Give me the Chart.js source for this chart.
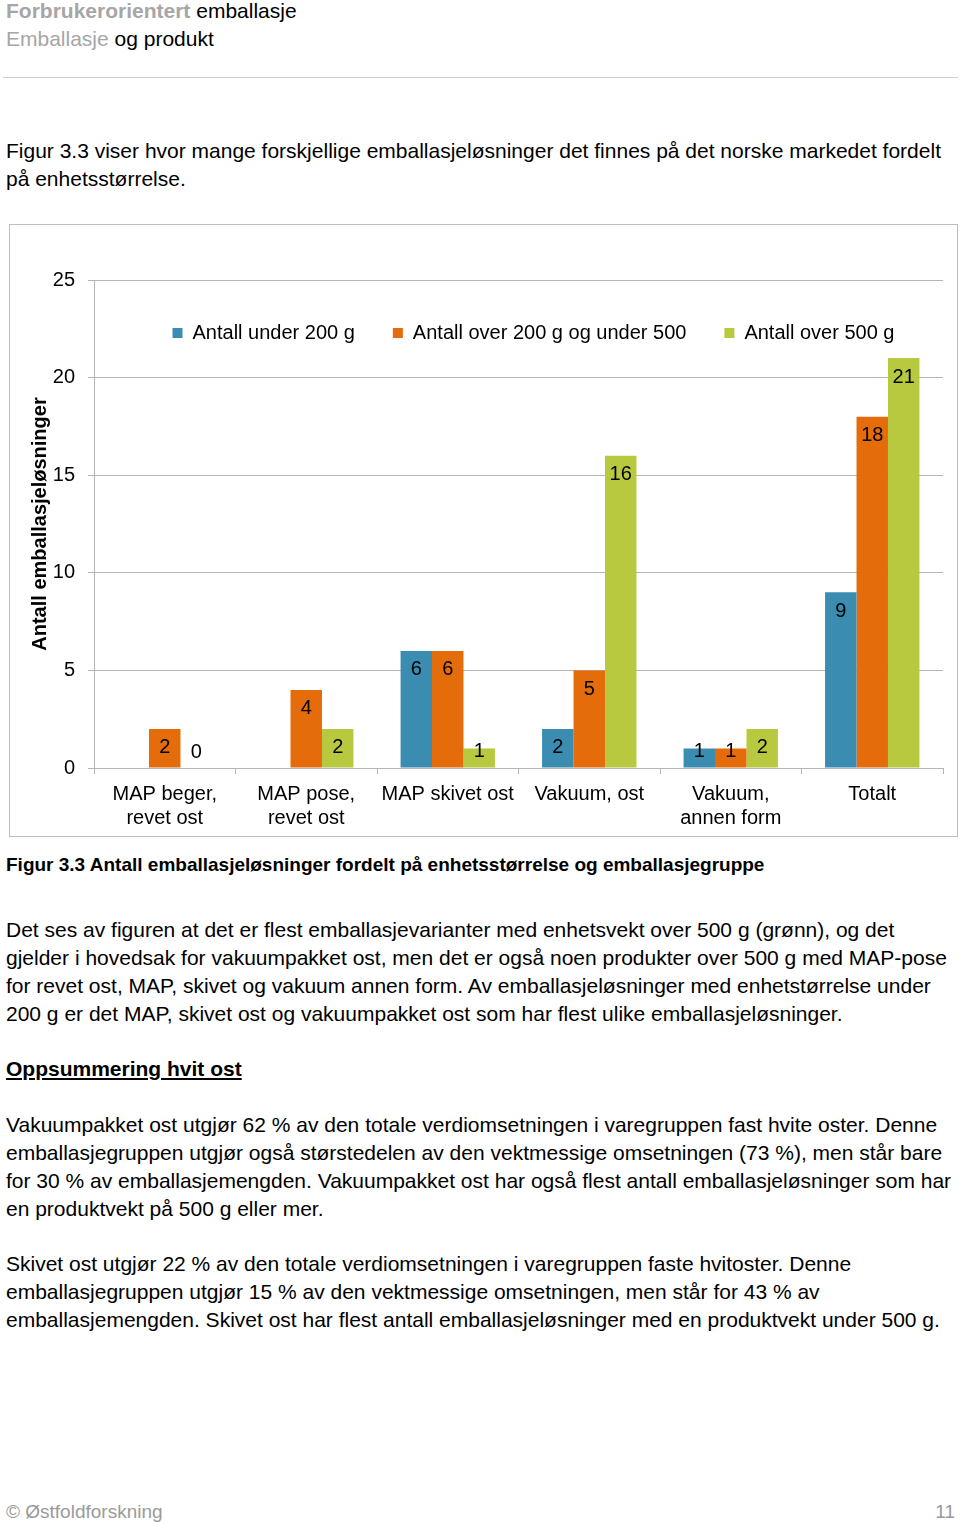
<!DOCTYPE html>
<html>
<head>
<meta charset="utf-8">
<script src="https://cdn.jsdelivr.net/npm/chart.js@4/dist/chart.umd.min.js"></script>
<style>
html,body{margin:0;padding:0;background:#fff;}
body{width:960px;height:1523px;position:relative;overflow:hidden;font-family:"Liberation Sans",Arial,sans-serif;color:#000;}
.t{position:absolute;left:6px;font-size:21px;line-height:28px;white-space:nowrap;}
.g{color:#a6a6a6;}
.b{font-weight:bold;}
#hr{position:absolute;left:3px;top:77px;width:955px;height:1px;background:#d0d0d0;}
#frame{position:absolute;left:9px;top:224px;width:949px;height:613px;box-sizing:border-box;border:1px solid #bdbdbd;}
#frame canvas{display:block;}
</style>
</head>
<body>
<div class="t" style="top:-3px;"><span class="g b">Forbrukerorientert</span> emballasje<br><span class="g">Emballasje</span> og produkt</div>
<div id="hr"></div>
<div class="t" style="top:137px;">Figur 3.3 viser hvor mange forskjellige emballasjeløsninger det finnes på det norske markedet fordelt<br>på enhetsstørrelse.</div>
<div id="frame"><canvas id="c" width="947" height="611" style="width:947px;height:611px;"></canvas></div>
<div class="t b" style="top:851px;font-size:19px;">Figur 3.3 Antall emballasjeløsninger fordelt på enhetsstørrelse og emballasjegruppe</div>
<div class="t" style="top:916px;">Det ses av figuren at det er flest emballasjevarianter med enhetsvekt over 500 g (grønn), og det<br>gjelder i hovedsak for vakuumpakket ost, men det er også noen produkter over 500 g med MAP-pose<br>for revet ost, MAP, skivet og vakuum annen form. Av emballasjeløsninger med enhetstørrelse under<br>200 g er det MAP, skivet ost og vakuumpakket ost som har flest ulike emballasjeløsninger.</div>
<div class="t b" style="top:1055px;text-decoration:underline;">Oppsummering hvit ost</div>
<div class="t" style="top:1111px;">Vakuumpakket ost utgjør 62 % av den totale verdiomsetningen i varegruppen fast hvite oster. Denne<br>emballasjegruppen utgjør også størstedelen av den vektmessige omsetningen (73 %), men står bare<br>for 30 % av emballasjemengden. Vakuumpakket ost har også flest antall emballasjeløsninger som har<br>en produktvekt på 500 g eller mer.</div>
<div class="t" style="top:1250px;">Skivet ost utgjør 22 % av den totale verdiomsetningen i varegruppen faste hvitoster. Denne<br>emballasjegruppen utgjør 15 % av den vektmessige omsetningen, men står for 43 % av<br>emballasjemengden. Skivet ost har flest antall emballasjeløsninger med en produktvekt under 500 g.</div>
<div class="t g" style="top:1498px;font-size:19px;color:#9a9a9a;">© Østfoldforskning</div>
<div class="t g" style="top:1498px;font-size:19px;left:auto;right:5px;color:#9a9a9a;">11</div>

<script>
// ---- data ----
const categories = [['MAP beger,', 'revet ost'], ['MAP pose,', 'revet ost'], 'MAP skivet ost', 'Vakuum, ost', ['Vakuum,', 'annen form'], 'Totalt'];
const seriesNames = ['Antall under 200 g', 'Antall over 200 g og under 500', 'Antall over 500 g'];
const under200 = [null, null, 6, 2, 1, 9];
const over200under500 = [2, 4, 6, 5, 1, 18];
const over500 = [0, 2, 1, 16, 2, 21];
const yMin = 0, yMax = 25, yStep = 5;
const yTitle = 'Antall emballasjeløsninger';

const FONT = '"Liberation Sans", Arial, sans-serif';
Chart.defaults.font.family = FONT;
Chart.defaults.color = '#000';

const gridColor = '#b5b5b5';

const valueLabels = {
  id: 'valueLabels',
  afterDatasetsDraw(chart) {
    const ctx = chart.ctx;
    ctx.save();
    ctx.font = '20px ' + FONT;
    ctx.fillStyle = '#000';
    ctx.textAlign = 'center';
    ctx.textBaseline = 'middle';
    chart.data.datasets.forEach((ds, i) => {
      const meta = chart.getDatasetMeta(i);
      meta.data.forEach((bar, j) => {
        const v = ds.data[j];
        if (v === null || v === undefined) return;
        const y = Math.min(bar.y + 19, bar.base - 16);
        ctx.fillText(String(v), bar.x, y);
      });
    });
    ctx.restore();
  }
};

// place the legend inside the plot area (as in the original)
const legendInPlot = {
  id: 'legendInPlot',
  afterLayout(chart) {
    const lg = chart.legend;
    if (!lg) return;
    const ca = chart.chartArea;
    lg.left = ca.left + 30;
    lg.right = ca.right;
    lg.top = ca.top + 5;
    lg.bottom = ca.bottom;
  }
};

new Chart(document.getElementById('c'), {
  type: 'bar',
  data: {
    labels: categories,
    datasets: [
      { label: seriesNames[0], data: under200, backgroundColor: '#3a8cb1' },
      { label: seriesNames[1], data: over200under500, backgroundColor: '#e46c0a' },
      { label: seriesNames[2], data: over500, backgroundColor: '#b9c93f' }
    ]
  },
  options: {
    responsive: false,
    animation: false,
    devicePixelRatio: 1,
    events: [],
    datasets: { bar: { categoryPercentage: 0.667, barPercentage: 1.0, borderWidth: 0 } },
    layout: { padding: { top: 55, right: 14, bottom: 0, left: 0 } },
    plugins: {
      tooltip: { enabled: false },
      legend: {
        display: true,
        position: 'top',
        fullSize: false,
        maxHeight: 0.001,
        labels: {
          boxWidth: 10,
          boxHeight: 10,
          padding: 38,
          color: '#000',
          font: { size: 20, family: FONT }
        }
      }
    },
    scales: {
      x: {
        grid: { display: true, drawOnChartArea: false, drawTicks: true, tickLength: 6, color: gridColor, offset: true },
        border: { display: true, color: gridColor },
        ticks: { color: '#000', padding: 8, maxRotation: 0, autoSkip: false, font: { size: 20, family: FONT, lineHeight: '24px' } },
        afterFit(scale) { scale.height = 68; }
      },
      y: {
        min: yMin, max: yMax,
        ticks: { stepSize: yStep, color: '#000', padding: 13, font: { size: 20, family: FONT } },
        grid: { color: gridColor, tickLength: 6, drawTicks: true },
        border: { display: true, color: gridColor },
        title: { display: true, text: yTitle, color: '#000', padding: { top: 18, bottom: 0 }, font: { size: 20, weight: 'bold', family: FONT } },
        afterFit(scale) { scale.width = 84; }
      }
    }
  },
  plugins: [valueLabels, legendInPlot]
});
</script>
</body>
</html>
